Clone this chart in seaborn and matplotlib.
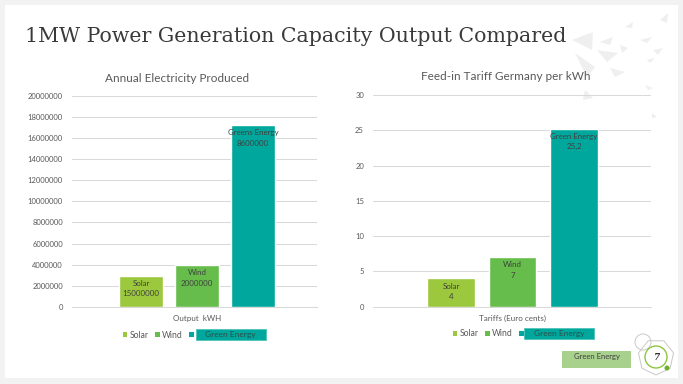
import matplotlib
matplotlib.use("Agg")
import matplotlib.pyplot as plt
import seaborn as sns
import pandas as pd
from matplotlib.patches import Rectangle, Polygon, Circle, RegularPolygon, Patch

# ---------------- data ----------------
series = ["Solar", "Wind", "Green Energy"]
colors = ["#9BC83C", "#66BD4B", "#00A79C"]

electricity_category = "Output  kWH"
electricity_values = [2950000, 3950000, 17200000]
electricity_labels = ["Solar\n15000000", "Wind\n2000000", "Greens Energy\n8600000"]
electricity_ticks = [0, 2000000, 4000000, 6000000, 8000000, 10000000,
                     12000000, 14000000, 16000000, 18000000, 20000000]

tariff_category = "Tariffs (Euro cents)"
tariff_values = [4, 7, 25.2]
tariff_labels = ["Solar\n4", "Wind\n7", "Green Energy\n25,2"]
tariff_ticks = [0, 5, 10, 15, 20, 25, 30]

W, H = 683, 384
sns.set_theme(style="white")
plt.rcParams["font.family"] = ["Lato", "DejaVu Sans"]

fig = plt.figure(figsize=(W / 100, H / 100), dpi=100)
fig.patch.set_facecolor("#F2F2F2")

# background / decoration axes in pixel coordinates
bg = fig.add_axes([0, 0, 1, 1], zorder=0)
bg.set_xlim(0, W)
bg.set_ylim(H, 0)
bg.axis("off")
bg.add_patch(Rectangle((5, 5), 673, 373, facecolor="white", edgecolor="none"))

tris = [
    [(572, 40), (593, 32), (592, 50)],
    [(600, 42), (613, 37), (610, 45)],
    [(625, 27), (633, 22), (632, 28)],
    [(660, 20), (668, 13), (667, 23)],
    [(640, 40), (652, 37), (647, 43)],
    [(597, 50), (618, 53), (607, 62)],
    [(575, 53), (595, 67), (587, 77)],
    [(610, 68), (625, 72), (615, 77)],
    [(620, 45), (628, 48), (622, 53)],
    [(653, 50), (663, 48), (658, 55)],
    [(647, 60), (655, 58), (650, 63)],
    [(645, 85), (653, 88), (648, 90)],
    [(585, 90), (593, 98), (583, 100)],
    [(652, 113), (657, 117), (652, 118)],
]
for t in tris:
    bg.add_patch(Polygon(t, closed=True, facecolor="#EFEFEF", edgecolor="none"))

fig.text(25 / W, 1 - 37 / H, "1MW Power Generation Capacity Output Compared",
         family=["DejaVu Serif"], fontsize=14.75, color="#3A3A3A", va="center", ha="left")

# bottom-right decorations
bg.add_patch(Rectangle((562, 351), 69, 17, facecolor="#A9D18E", edgecolor="none"))
bg.text(596.5, 357, "Green Energy", fontsize=5.5, color="#404040", ha="center", va="center")
bg.add_patch(RegularPolygon((656, 357), numVertices=7, radius=18, facecolor="none",
                            edgecolor="#C8C8C8", lw=0.7))
bg.add_patch(Circle((643, 342), 8, facecolor="none", edgecolor="#C8C8C8", lw=0.7))
bg.add_patch(Circle((656, 357), 11, facecolor="white", edgecolor="#8DC63F", lw=1.0))
bg.add_patch(Circle((667, 368), 2.5, facecolor="#6FAE2A", edgecolor="none"))
bg.text(656, 357, "7", family=["DejaVu Serif"], fontsize=6.5, fontweight="bold",
        fontstyle="italic", color="#333333", ha="center", va="center")


def px_axes(x0, x1, ytop, ybot):
    return fig.add_axes([x0 / W, 1 - ybot / H, (x1 - x0) / W, (ybot - ytop) / H], zorder=2)


def draw_chart(ax, category, values, labels, ticks, gap, title, title_xy,
               leg_x, leg_y, box):
    df = pd.DataFrame({"cat": [category] * len(series), "series": series, "value": values})
    sns.barplot(data=df, x="cat", y="value", hue="series", hue_order=series,
                palette=colors, saturation=1, width=0.8, gap=gap, ax=ax,
                legend=False, zorder=3)
    ax.set_facecolor("none")
    ax.set_ylim(ticks[0], ticks[-1])
    ax.set_yticks(ticks)
    ax.set_yticklabels([str(t) for t in ticks])
    ax.grid(axis="y", color="#D9D9D9", lw=0.75, zorder=0)
    ax.set_axisbelow(True)
    for s in ["left", "right", "top"]:
        ax.spines[s].set_visible(False)
    ax.spines["bottom"].set_color("#D9D9D9")
    ax.spines["bottom"].set_linewidth(0.75)
    ax.tick_params(axis="y", length=0, pad=6.5, labelsize=5.5, labelcolor="#595959")
    ax.tick_params(axis="x", length=0, pad=6, labelsize=5.8, labelcolor="#595959")
    ax.set_xlabel("")
    ax.set_ylabel("")
    for cont, lab in zip(ax.containers, labels):
        p = cont.patches[0]
        ax.annotate(lab, (p.get_x() + p.get_width() / 2, p.get_height()),
                    xytext=(0, -3), textcoords="offset points", ha="center", va="top",
                    fontsize=5.7, color="#404040", linespacing=1.55, zorder=5)
    fig.text(title_xy[0] / W, 1 - title_xy[1] / H, title, fontsize=8.5, color="#595959",
             ha="center", va="center")
    handles = [Patch(facecolor=c, edgecolor="none") for c in colors]
    leg = ax.legend(handles, ["Solar", "Wind", ""], ncol=3, loc="center left",
                    bbox_to_anchor=(leg_x / W, 1 - leg_y / H), bbox_transform=fig.transFigure,
                    frameon=False, handlelength=0.55, handleheight=0.55, handletextpad=0.3,
                    columnspacing=0.7, borderpad=0, borderaxespad=0, fontsize=6.2)
    for t in leg.get_texts():
        t.set_color("#595959")
    bx0, by0, bx1, by1 = box
    bg.add_patch(Rectangle((bx0, by0), bx1 - bx0, by1 - by0, facecolor="#00A79C",
                           edgecolor="#4FC3B8", lw=0.6, zorder=3))
    bg.text((bx0 + bx1) / 2, (by0 + by1) / 2, "Green Energy", fontsize=6,
            color="#2F4F4A", ha="center", va="center", zorder=4)


# left chart
axL = px_axes(72, 317, 95.7, 307)
draw_chart(axL, electricity_category, electricity_values, electricity_labels,
           electricity_ticks, 0.21, "Annual Electricity Produced", (177, 78),
           122.5, 335, (195.7, 329, 265.7, 340))
axL.set_xlim(-0.595, 0.571)

# right chart
axR = px_axes(373, 651, 95, 306.7)
draw_chart(axR, tariff_category, tariff_values, tariff_labels,
           tariff_ticks, 0.22, "Feed-in Tariff Germany per kWh", (505.7, 77),
           452.5, 334, (524, 328, 594, 339))
axR.set_xlim(-0.605, 0.6006)

fig.savefig("out.png", dpi=100, facecolor=fig.get_facecolor())
